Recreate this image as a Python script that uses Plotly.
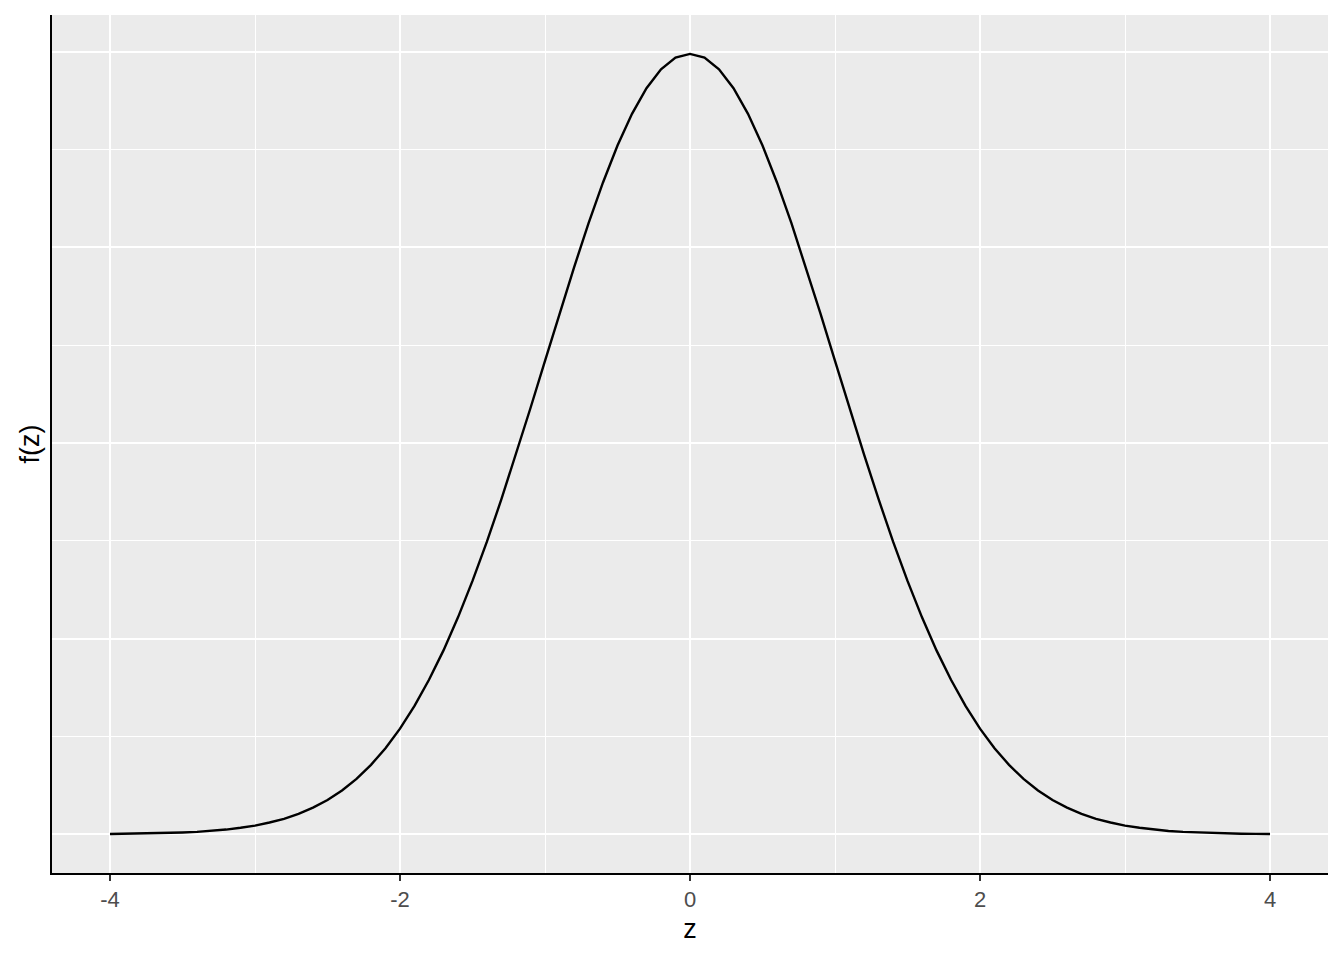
import plotly.graph_objects as go

z_vals = [-4.0, -3.9, -3.8, -3.7, -3.6, -3.5, -3.4, -3.3, -3.2, -3.1,
          -3.0, -2.9, -2.8, -2.7, -2.6, -2.5, -2.4, -2.3, -2.2, -2.1,
          -2.0, -1.9, -1.8, -1.7, -1.6, -1.5, -1.4, -1.3, -1.2, -1.1,
          -1.0, -0.9, -0.8, -0.7, -0.6, -0.5, -0.4, -0.3, -0.2, -0.1,
          0.0, 0.1, 0.2, 0.3, 0.4, 0.5, 0.6, 0.7, 0.8, 0.9,
          1.0, 1.1, 1.2, 1.3, 1.4, 1.5, 1.6, 1.7, 1.8, 1.9,
          2.0, 2.1, 2.2, 2.3, 2.4, 2.5, 2.6, 2.7, 2.8, 2.9,
          3.0, 3.1, 3.2, 3.3, 3.4, 3.5, 3.6, 3.7, 3.8, 3.9, 4.0]

f_vals = [0.0001, 0.0002, 0.0003, 0.0004, 0.0006, 0.0009, 0.0012, 0.0017, 0.0024, 0.0033,
          0.0044, 0.0060, 0.0079, 0.0104, 0.0136, 0.0175, 0.0224, 0.0283, 0.0355, 0.0440,
          0.0540, 0.0656, 0.0790, 0.0940, 0.1109, 0.1295, 0.1497, 0.1714, 0.1942, 0.2179,
          0.2420, 0.2661, 0.2897, 0.3123, 0.3332, 0.3521, 0.3683, 0.3814, 0.3910, 0.3970,
          0.3989, 0.3970, 0.3910, 0.3814, 0.3683, 0.3521, 0.3332, 0.3123, 0.2897, 0.2661,
          0.2420, 0.2179, 0.1942, 0.1714, 0.1497, 0.1295, 0.1109, 0.0940, 0.0790, 0.0656,
          0.0540, 0.0440, 0.0355, 0.0283, 0.0224, 0.0175, 0.0136, 0.0104, 0.0079, 0.0060,
          0.0044, 0.0033, 0.0024, 0.0017, 0.0012, 0.0009, 0.0006, 0.0004, 0.0003, 0.0002, 0.0001]

x_ticks = [-4, -2, 0, 2, 4]
x_tick_labels = ["-4", "-2", "0", "2", "4"]
x_minor = [-3, -1, 1, 3]
y_major = [0.0, 0.1, 0.2, 0.3, 0.4]
y_minor = [0.05, 0.15, 0.25, 0.35]

fig = go.Figure()
fig.add_trace(go.Scatter(x=z_vals, y=f_vals, mode="lines",
                         line=dict(color="black", width=2.4),
                         showlegend=False, hoverinfo="skip"))

fig.update_layout(
    width=1336, height=952,
    margin=dict(l=44, r=16, t=7, b=87),
    paper_bgcolor="white",
    plot_bgcolor="#EBEBEB",
    font=dict(family="Liberation Sans, Arial, sans-serif", color="black"),
    xaxis=dict(
        range=[-4.4, 4.4],
        tickvals=x_ticks, ticktext=x_tick_labels,
        tickfont=dict(size=22, color="#4D4D4D"),
        ticks="outside", ticklen=6, tickwidth=2, tickcolor="#333333",
        showgrid=True, gridcolor="white", gridwidth=2.2,
        minor=dict(tickvals=x_minor, showgrid=True, gridcolor="white", gridwidth=1.1, ticks=""),
        showline=True, linecolor="black", linewidth=2,
        zeroline=False,
        title=dict(text="z", font=dict(size=27, color="black"), standoff=8),
    ),
    yaxis=dict(
        range=[-0.0198, 0.4188],
        tickvals=y_major, showticklabels=False, ticks="",
        showgrid=True, gridcolor="white", gridwidth=2.2,
        minor=dict(tickvals=y_minor, showgrid=True, gridcolor="white", gridwidth=1.1, ticks=""),
        showline=True, linecolor="black", linewidth=2,
        zeroline=False,
        title=dict(text="f(z)", font=dict(size=27, color="black"), standoff=3),
    ),
)

fig.write_html("out.html")
